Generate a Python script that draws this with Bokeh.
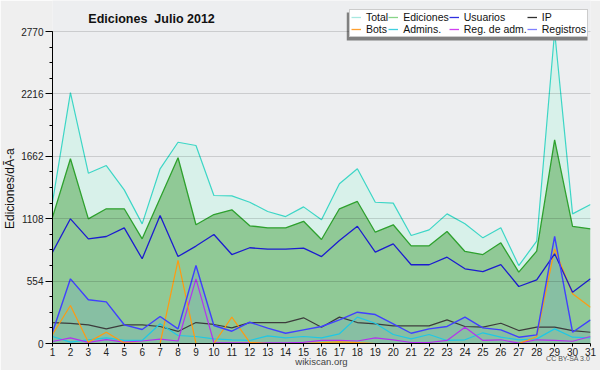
from bokeh.plotting import figure
from bokeh.models import FixedTicker, Legend, LegendItem, Range1d, Label, LinearAxis, BoxAnnotation
from bokeh.embed import file_html
from bokeh.resources import INLINE

days = [1, 2, 3, 4, 5, 6, 7, 8, 9, 10, 11, 12, 13, 14, 15, 16, 17, 18, 19, 20,
        21, 22, 23, 24, 25, 26, 27, 28, 29, 30, 31]

total = [1254, 2228, 1512, 1580, 1364, 1062, 1551, 1787, 1758, 1314, 1311, 1254, 1172, 1127, 1213, 1098,
         1418, 1551, 1254, 1246, 959, 1009, 1151, 1063, 938, 1027, 692, 908, 2770, 1151, 1234]
ediciones = [1121, 1640, 1107, 1196, 1196, 929, 1290, 1649, 1054, 1145, 1187, 1045, 1027, 1027, 1085, 923,
             1196, 1261, 988, 1054, 867, 867, 994, 817, 790, 894, 633, 820, 1808, 1039, 1018]
usuarios = [810, 1107, 929, 950, 1027, 752, 1136, 772, 865, 968, 790, 850, 837, 837, 846, 772,
            915, 1041, 811, 885, 699, 699, 766, 663, 639, 701, 506, 565, 796, 455, 574]
registros = [100, 574, 388, 370, 166, 124, 240, 130, 692, 160, 109, 189, 136, 91, 121, 151,
             210, 278, 257, 175, 91, 130, 151, 234, 139, 121, 56, 77, 950, 100, 210]
bots = [80, 337, 12, 100, 5, 0, 0, 737, 0, 0, 234, 10, 0, 0, 0, 8,
        15, 8, 0, 0, 0, 0, 0, 0, 0, 0, 0, 60, 840, 441, 322]
admins = [62, 12, 33, 50, 27, 27, 175, 71, 62, 41, 33, 27, 68, 50, 62, 50,
          86, 234, 180, 80, 41, 80, 27, 33, 95, 56, 33, 41, 130, 56, 50]
regadm = [18, 50, 10, 35, 12, 22, 38, 22, 574, 9, 6, 6, 6, 6, 10, 27,
          27, 22, 50, 33, 9, 9, 27, 145, 27, 33, 3, 33, 27, 20, 62]
ip = [186, 178, 166, 130, 166, 166, 151, 107, 186, 169, 139, 186, 186, 186, 228, 145,
      234, 186, 175, 157, 157, 157, 210, 151, 145, 180, 115, 145, 145, 115, 100]

y_ticks = [0, 554, 1108, 1662, 2216, 2770]
legend_names = ["Total", "Ediciones", "Usuarios", "IP", "Bots", "Admins.", "Reg. de adm.", "Registros"]
legend_colors = ["#a8e8e0", "#88d488", "#3030e0", "#303030", "#ffa030", "#40d0e0", "#d040f0", "#8080ff"]
title_text = "Ediciones\u00a0 Julio 2012"
y_label = "Ediciones/dÃ-a" + "\u00a0" * 10      # padding shifts the centred label down
cc_label = "CC BY-SA 3.0" + "\u00a0" * 23       # padding puts the text's right end at the axis end

FONT = "Liberation Sans"
Y_TOP = 2770
PX = Y_TOP / 312.0            # data units per pixel, vertical
DX = 30 / 543.0               # days per pixel, horizontal
NAN = [float("nan")]

p = figure(width=600, height=370, output_backend="svg", toolbar_location=None,
           x_range=Range1d(1, 31), y_range=Range1d(0, Y_TOP + 31 * PX),
           min_border_left=47, min_border_right=10, min_border_top=0, min_border_bottom=27,
           background_fill_color="#edeef0", border_fill_color="#efefef", outline_line_color=None)

# areas
p.varea(x=days, y1=0, y2=total, fill_color="#d8f1ea")
p.varea(x=days, y1=0, y2=ediciones, fill_color="#90c996")
p.varea(x=days, y1=0, y2=registros, fill_color="#87bfa3")

# lines
p.line(days, total, line_color="#3dd6c6", line_width=1.2)
p.line(days, ediciones, line_color="#2ea12e", line_width=1.3)
p.line(days, ip, line_color="#3c3c3c", line_width=1.2)
p.line(days, admins, line_color="#1ec8e6", line_width=1.2)
p.line(days, regadm, line_color="#b432f0", line_width=1.2)
p.line(days, bots, line_color="#ff9a10", line_width=1.2)
p.line(days, usuarios, line_color="#1c1cd0", line_width=1.3)
p.line(days, registros, line_color="#4040ff", line_width=1.4)

# grid
p.xgrid.visible = False
p.ygrid.ticker = FixedTicker(ticks=y_ticks)
p.ygrid.grid_line_color = "black"
p.ygrid.grid_line_alpha = 0.14
p.ygrid.level = "overlay"

# axes
minor = [Y_TOP / 20 * k for k in range(21)]
p.yaxis.ticker = FixedTicker(ticks=y_ticks, minor_ticks=minor)
p.yaxis.bounds = (0, Y_TOP)
p.yaxis.major_tick_out = 7
p.yaxis.major_tick_in = 0
p.yaxis.minor_tick_out = 3
p.yaxis.minor_tick_in = 0
p.yaxis.major_label_standoff = 2
p.yaxis.axis_label = y_label
p.yaxis.axis_label_standoff = 1
p.yaxis.axis_label_text_font_size = "12px"
p.yaxis.axis_label_text_color = "#111111"

p.xaxis.ticker = FixedTicker(ticks=days)
p.xaxis.bounds = (1, 31)
p.xaxis.major_tick_out = 3
p.xaxis.major_tick_in = 0
p.xaxis.minor_tick_line_color = None
p.xaxis.major_label_standoff = 1
p.xaxis.axis_label = cc_label
p.xaxis.axis_label_standoff = -4
p.xaxis.axis_label_text_font_size = "7px"
p.xaxis.axis_label_text_color = "#555555"
p.xaxis.axis_label_align = "end"

for ax in (p.xaxis, p.yaxis):
    ax.axis_line_color = "black"
    ax.major_tick_line_color = "black"
    ax.major_label_text_font = FONT
    ax.major_label_text_font_size = "10px"
    ax.major_label_text_color = "#222222"
    ax.axis_label_text_font = FONT
    ax.axis_label_text_font_style = "normal"
p.yaxis.minor_tick_line_color = "black"

# second bottom axis only carrying the site name
site_axis = LinearAxis(ticker=FixedTicker(ticks=[]), bounds=(1, 31), axis_line_color=None,
                       major_tick_line_color=None, minor_tick_line_color=None,
                       major_label_text_font_size="0px", major_tick_out=0, major_label_standoff=0,
                       axis_label="wikiscan.org", axis_label_standoff=-9,
                       axis_label_text_font=FONT, axis_label_text_font_style="normal",
                       axis_label_text_font_size="9.5px", axis_label_text_color="#444444")
p.add_layout(site_axis, "below")

# title
p.add_layout(Label(x=1 + 100 * DX, y=(343 - 18) * PX, text=title_text, text_font=FONT,
                   text_font_size="12.5px", text_font_style="bold", text_align="center",
                   text_baseline="middle", text_color="#111111"))

# legend shadow (offset left/down from the legend box)
p.add_layout(BoxAnnotation(left=1 + 297 * DX, right=1 + 540 * DX, top=(343 - 12) * PX,
                           bottom=(343 - 40) * PX, fill_color="#808080", fill_alpha=1,
                           line_color=None))

leg_r = [p.line(NAN, NAN, line_color=c, line_width=1.3) for c in legend_colors]
legend = Legend(items=[LegendItem(label=n, renderers=[r]) for n, r in zip(legend_names, leg_r)],
                location=(297, 306), orientation="horizontal", ncols=4,
                background_fill_color="white", background_fill_alpha=1,
                border_line_color="#999999", border_line_width=1, label_text_color="#111111",
                label_text_font=FONT, label_text_font_size="10.5px",
                glyph_width=10, glyph_height=10, label_height=10, label_standoff=5,
                spacing=0, padding=1, margin=0)
p.add_layout(legend)

open("out.html", "w").write(file_html(p, INLINE))
